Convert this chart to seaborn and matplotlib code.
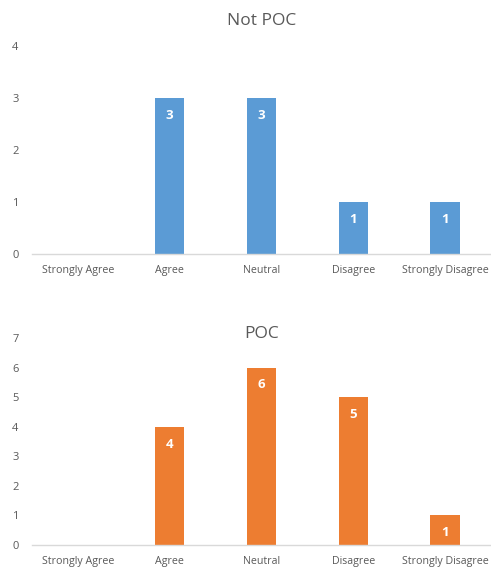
import matplotlib
matplotlib.use("Agg")
import matplotlib.pyplot as plt
import seaborn as sns
import pandas as pd

categories = ["Strongly Agree", "Agree", "Neutral", "Disagree", "Strongly Disagree"]
not_poc_counts = [0, 3, 3, 1, 1]
poc_counts = [0, 4, 6, 5, 1]
not_poc_ticks = [0, 1, 2, 3, 4]
poc_ticks = [0, 1, 2, 3, 4, 5, 6, 7]

sns.set_theme(style="white")
plt.rcParams["font.family"] = ["Open Sans", "DejaVu Sans"]

TEXT = "#595959"
AXIS = "#D9D9D9"

fig = plt.figure(figsize=(4.91, 5.72), dpi=100)
ax_top = fig.add_axes([32 / 491, 1 - 254 / 572, 459 / 491, 208 / 572])
ax_bot = fig.add_axes([32 / 491, 1 - 545 / 572, 459 / 491, 207 / 572])


def draw(ax, counts, ticks, color, title, title_y):
    df = pd.DataFrame({"response": categories, "count": counts})
    sns.barplot(data=df, x="response", y="count", order=categories,
                color=color, saturation=1, width=0.32, linewidth=0, ax=ax)
    ax.set_ylim(ticks[0], ticks[-1])
    ax.set_yticks(ticks)
    ax.set_xlim(-0.5, len(categories) - 0.5)
    ax.set_xlabel("")
    ax.set_ylabel("")
    for side in ["top", "right", "left"]:
        ax.spines[side].set_visible(False)
    ax.spines["bottom"].set_color(AXIS)
    ax.spines["bottom"].set_linewidth(1.0)
    ax.tick_params(axis="y", length=0, pad=12, labelsize=8, labelcolor=TEXT)
    ax.tick_params(axis="x", length=0, pad=8, labelsize=7.7, labelcolor=TEXT)
    for lbl in ax.get_yticklabels():
        lbl.set_horizontalalignment("center")
    ax.set_title(title, fontsize=12.5, color=TEXT, y=title_y)
    # value labels placed just inside the top of each bar
    for i, v in enumerate(counts):
        if v > 0:
            ax.annotate(str(v), (i, v), xytext=(0, -12.5), textcoords="offset points",
                        ha="center", va="center", color="white",
                        fontsize=9.5, fontweight="bold")


draw(ax_top, not_poc_counts, not_poc_ticks, "#5B9BD5", "Not POC", 1.06)
draw(ax_bot, poc_counts, poc_ticks, "#ED7D31", "POC", 0.96)

fig.savefig("out.png", dpi=100)
